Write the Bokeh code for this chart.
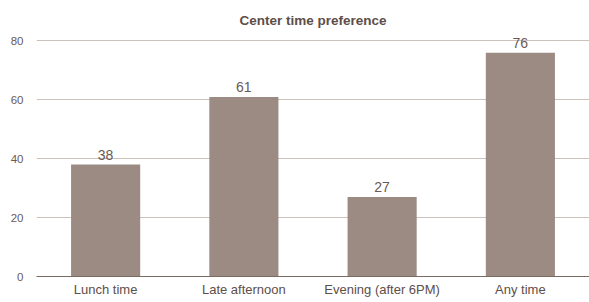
from bokeh.plotting import figure
from bokeh.models import ColumnDataSource, Range1d, FixedTicker, LabelSet, Label
from bokeh.core.properties import value
from bokeh.embed import file_html
from bokeh.resources import INLINE

categories = ["Lunch time", "Late afternoon", "Evening (after 6PM)", "Any time"]
values = [38, 61, 27, 76]
y_ticks = [0, 20, 40, 60, 80]
title_text = "Center time preference"

src = ColumnDataSource(dict(cat=categories, val=values, lab=[str(v) for v in values]))

p = figure(x_range=categories, y_range=Range1d(0, 90), width=589, height=302,
           output_backend="svg", toolbar_location=None,
           min_border_left=36, min_border_right=0, min_border_top=11, min_border_bottom=26)

p.vbar(x="cat", top="val", width=0.5, source=src, color="#9b8b83", line_color=None)

labels = LabelSet(x="cat", y="val", text="lab", source=src, text_align="center",
                  text_baseline="bottom", y_offset=5, text_font=value("Liberation Sans"),
                  text_font_size="14px", text_color="#6a5a54")
p.add_layout(labels)

title = Label(x=2.0, y=87.0, text=title_text, text_align="center", text_baseline="middle",
              text_font="Liberation Sans", text_font_size="13.5px", text_font_style="bold",
              text_color="#5e4e48")
p.add_layout(title)

p.outline_line_color = None
p.background_fill_color = "white"
p.border_fill_color = "white"

p.xgrid.grid_line_color = None
p.ygrid.grid_line_color = "#cdc1bc"
p.ygrid.grid_line_width = 1
p.yaxis.ticker = FixedTicker(ticks=y_ticks)

p.yaxis.axis_line_color = None
p.yaxis.major_tick_line_color = None
p.yaxis.major_tick_out = 0
p.yaxis.major_tick_in = 0
p.yaxis.minor_tick_line_color = None
p.yaxis.major_label_standoff = 13
p.yaxis.major_label_text_font = "Liberation Sans"
p.yaxis.major_label_text_font_size = "11.5px"
p.yaxis.major_label_text_color = "#6a5a54"

p.xaxis.axis_line_color = "#7a6a64"
p.xaxis.axis_line_width = 1
p.xaxis.major_tick_line_color = None
p.xaxis.major_tick_out = 0
p.xaxis.major_tick_in = 0
p.xaxis.minor_tick_line_color = None
p.xaxis.major_label_standoff = 5
p.xaxis.major_label_text_font = "Liberation Sans"
p.xaxis.major_label_text_font_size = "13px"
p.xaxis.major_label_text_color = "#5e4e48"

open("out.html", "w").write(file_html(p, INLINE))
